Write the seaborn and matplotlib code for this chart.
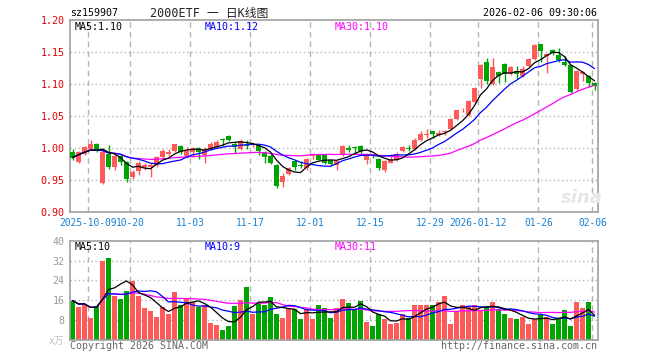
import numpy as np
import pandas as pd
import matplotlib
matplotlib.use("Agg")
import matplotlib.pyplot as plt
import seaborn as sns

# === DATA ===
dates = [
    "2025-09-26", "2025-09-29", "2025-09-30",
    "2025-10-09", "2025-10-10", "2025-10-13", "2025-10-14", "2025-10-15", "2025-10-16", "2025-10-17",
    "2025-10-20", "2025-10-21", "2025-10-22", "2025-10-23", "2025-10-24", "2025-10-27", "2025-10-28",
    "2025-10-29", "2025-10-30", "2025-10-31",
    "2025-11-03", "2025-11-04", "2025-11-05", "2025-11-06", "2025-11-07", "2025-11-10", "2025-11-11",
    "2025-11-12", "2025-11-13", "2025-11-14", "2025-11-17", "2025-11-18", "2025-11-19", "2025-11-20",
    "2025-11-21", "2025-11-24", "2025-11-25", "2025-11-26", "2025-11-27", "2025-11-28",
    "2025-12-01", "2025-12-02", "2025-12-03", "2025-12-04", "2025-12-05", "2025-12-08", "2025-12-09",
    "2025-12-10", "2025-12-11", "2025-12-12", "2025-12-15", "2025-12-16", "2025-12-17", "2025-12-18",
    "2025-12-19", "2025-12-22", "2025-12-23", "2025-12-24", "2025-12-25", "2025-12-26", "2025-12-29",
    "2025-12-30", "2025-12-31",
    "2026-01-05", "2026-01-06", "2026-01-07", "2026-01-08", "2026-01-09", "2026-01-12", "2026-01-13",
    "2026-01-14", "2026-01-15", "2026-01-16", "2026-01-19", "2026-01-20", "2026-01-21", "2026-01-22",
    "2026-01-23", "2026-01-26", "2026-01-27", "2026-01-28", "2026-01-29", "2026-01-30",
    "2026-02-02", "2026-02-03", "2026-02-04", "2026-02-05", "2026-02-06",
]
opens = [0.993, 0.978, 0.991, 0.999, 1.007, 0.946, 0.991, 0.970, 0.987, 0.978,
         0.955, 0.964, 0.970, 0.971, 0.973, 0.986, 0.991, 0.996, 1.003, 0.988,
         0.994, 1.000, 0.989, 0.999, 1.002, 1.014, 1.019, 1.006, 0.998, 1.005,
         1.004, 1.004, 0.993, 0.988, 0.973, 0.947, 0.959, 0.979, 0.973, 0.968,
         0.987, 0.989, 0.989, 0.981, 0.973, 0.990, 1.000, 1.002, 1.003, 0.981,
         0.988, 0.983, 0.966, 0.977, 0.981, 0.995, 1.000, 0.998, 1.013, 1.021,
         1.026, 1.021, 1.025, 1.029, 1.045, 1.059, 1.052, 1.072, 1.108, 1.135,
         1.100, 1.118, 1.132, 1.116, 1.121, 1.113, 1.128, 1.139, 1.162, 1.143,
         1.153, 1.146, 1.134, 1.129, 1.092, 1.115, 1.113, 1.102]
highs = [0.998, 0.996, 1.003, 1.012, 1.008, 1.000, 1.004, 0.990, 0.990, 0.980,
         0.965, 0.980, 0.977, 0.976, 0.988, 0.999, 0.998, 1.007, 1.004, 1.002,
         1.002, 1.001, 1.002, 1.009, 1.013, 1.015, 1.020, 1.009, 1.014, 1.013,
         1.008, 1.006, 0.995, 0.990, 0.975, 0.961, 0.971, 0.981, 0.980, 0.984,
         0.992, 0.990, 0.990, 0.981, 0.982, 1.004, 1.005, 1.003, 1.004, 0.992,
         0.990, 0.985, 0.982, 0.990, 0.994, 1.003, 1.004, 1.015, 1.027, 1.029,
         1.027, 1.028, 1.028, 1.047, 1.060, 1.062, 1.075, 1.095, 1.132, 1.141,
         1.141, 1.120, 1.133, 1.128, 1.128, 1.128, 1.140, 1.163, 1.163, 1.149,
         1.155, 1.157, 1.144, 1.130, 1.122, 1.120, 1.114, 1.103]
lows = [0.982, 0.976, 0.989, 0.997, 0.993, 0.944, 0.967, 0.965, 0.974, 0.947,
        0.952, 0.958, 0.966, 0.955, 0.971, 0.983, 0.988, 0.994, 0.991, 0.985,
        0.986, 0.983, 0.977, 0.997, 1.000, 1.003, 1.011, 0.992, 0.997, 0.998,
        1.001, 0.989, 0.977, 0.975, 0.938, 0.939, 0.958, 0.966, 0.969, 0.966,
        0.983, 0.981, 0.975, 0.973, 0.965, 0.988, 0.994, 0.991, 0.991, 0.975,
        0.984, 0.965, 0.962, 0.976, 0.980, 0.993, 0.995, 0.997, 1.011, 1.015,
        1.015, 1.018, 1.020, 1.028, 1.043, 1.057, 1.050, 1.068, 1.094, 1.100,
        1.099, 1.102, 1.103, 1.114, 1.108, 1.111, 1.126, 1.137, 1.135, 1.117,
        1.145, 1.134, 1.128, 1.086, 1.090, 1.105, 1.096, 1.090]
closes = [0.985, 0.994, 1.001, 1.007, 0.996, 0.993, 0.970, 0.988, 0.978, 0.951,
          0.963, 0.977, 0.974, 0.973, 0.986, 0.995, 0.993, 1.006, 0.994, 0.996,
          1.000, 0.994, 0.999, 1.007, 1.009, 1.013, 1.012, 1.003, 1.011, 1.003,
          1.006, 0.996, 0.986, 0.977, 0.941, 0.956, 0.969, 0.970, 0.972, 0.983,
          0.990, 0.982, 0.977, 0.975, 0.980, 1.003, 0.997, 1.000, 0.996, 0.989,
          0.987, 0.968, 0.980, 0.982, 0.991, 1.001, 0.999, 1.013, 1.022, 1.022,
          1.022, 1.023, 1.026, 1.045, 1.059, 1.060, 1.073, 1.094, 1.130, 1.104,
          1.126, 1.113, 1.115, 1.127, 1.116, 1.123, 1.139, 1.161, 1.151, 1.147,
          1.149, 1.138, 1.129, 1.088, 1.120, 1.119, 1.102, 1.097]
volumes = [15.9, 13.1, 14.6, 9.0, 13.5, 31.7, 32.9, 17.9, 16.7, 19.7,
           23.6, 17.9, 12.8, 11.5, 9.4, 13.2, 10.5, 19.2, 14.3, 17.0,
           15.2, 13.1, 13.9, 7.0, 6.2, 4.2, 5.8, 13.5, 16.3, 21.2,
           10.3, 14.8, 13.9, 17.5, 10.3, 9.0, 12.6, 12.6, 8.6, 12.3,
           8.6, 13.9, 12.8, 9.0, 12.8, 16.7, 15.1, 12.3, 15.9, 7.4,
           5.8, 10.3, 8.6, 6.6, 7.0, 10.3, 9.0, 14.3, 14.3, 14.3,
           14.3, 15.5, 17.9, 6.6, 11.5, 14.3, 13.5, 13.9, 11.9, 13.1,
           15.5, 12.3, 10.3, 9.0, 8.6, 9.4, 6.6, 8.6, 9.9, 9.4,
           6.6, 8.6, 11.9, 5.8, 15.5, 12.7, 15.5, 0.2]

tick_dates = ["2025-10-09", "2025-10-20", "2025-11-03", "2025-11-17", "2025-12-01",
              "2025-12-15", "2025-12-29", "2026-01-12", "2026-01-26", "2026-02-06"]
tick_labels = ["2025-10-09", "10-20", "11-03", "11-17", "12-01",
               "12-15", "12-29", "2026-01-12", "01-26", "02-06"]
price_ticks = [0.90, 0.95, 1.00, 1.05, 1.10, 1.15, 1.20]
vol_ticks = [8, 16, 24, 32, 40]

# === STYLE ===
RED = "#ff5a5a"
GREEN = "#00a400"
GRID = "#b4b4b4"
FRAME = "#a0a0a0"
BLUE_TXT = "#1a80d0"
FS = 7.2
W, H = 660, 360

sns.set_theme(style="white")
plt.rcParams['font.family'] = ['DejaVu Sans Mono', 'Noto Sans CJK SC']

df = pd.DataFrame({"date": dates, "open": opens, "high": highs,
                   "low": lows, "close": closes, "vol": volumes})
df["x"] = np.arange(len(df))
df["up"] = df["close"] >= df["open"]
for n in (5, 10, 30):
    df[f"ma{n}"] = df["close"].rolling(n, min_periods=1).mean()
    df[f"vma{n}"] = df["vol"].rolling(n, min_periods=1).mean()

tick_pos = [dates.index(d) - 0.35 for d in tick_dates]


def px(x0, y0, x1, y1):
    return [x0 / W, 1 - y1 / H, (x1 - x0) / W, (y1 - y0) / H]


fig = plt.figure(figsize=(W / 100, H / 100), dpi=100)
ax = fig.add_axes(px(70, 20, 598, 212))
axv = fig.add_axes(px(70, 240.7, 598, 340))

for a in (ax, axv):
    a.set_xlim(-0.42, len(df) - 0.42)
    for s in a.spines.values():
        s.set_color(FRAME)
        s.set_linewidth(1.2)
    for p in tick_pos:
        a.axvline(p, color=GRID, lw=1, ls=(0, (4, 3)), zorder=0)
    a.tick_params(length=0, pad=4)

# --- candles ---
colors = np.where(df["up"], RED, GREEN)
ax.vlines(df["x"], df["low"], df["high"], colors=colors, lw=1, zorder=2)
body_lo = np.minimum(df["open"], df["close"])
body_h = np.maximum((df["close"] - df["open"]).abs(), 0.0008)
ax.bar(df["x"], body_h, bottom=body_lo, width=0.8, color=colors, lw=0, zorder=3)

for col, c in (("ma30", "#ff00ff"), ("ma10", "#0000ff"), ("ma5", "black")):
    sns.lineplot(x=df["x"], y=df[col], color=c, lw=0.9, ax=ax, zorder=4)

ax.set_ylim(0.90, 1.20)
ax.set_yticks(price_ticks)
ax.set_yticklabels([f"{t:.2f}" for t in price_ticks], color="#e00000", fontsize=FS)
for t in price_ticks[1:-1]:
    ax.axhline(t, color=GRID, lw=1, ls=(0, (1, 2)), zorder=0)
ax.set_xticks(tick_pos)
ax.set_xticklabels(tick_labels, color=BLUE_TXT, fontsize=6.9)
ax.set_xlabel("")
ax.set_ylabel("")

# --- volume ---
sns.barplot(data=df, x="x", y="vol", hue="up", palette={True: RED, False: GREEN},
            native_scale=True, dodge=False, width=0.8, saturation=1,
            errorbar=None, legend=False, linewidth=0, ax=axv, zorder=2)
for col, c in (("vma30", "#ff00ff"), ("vma10", "#0000ff"), ("vma5", "black")):
    sns.lineplot(x=df["x"], y=df[col], color=c, lw=0.9, ax=axv, zorder=4)
axv.set_xlim(-0.42, len(df) - 0.42)
axv.set_ylim(0, 40)
axv.set_yticks(vol_ticks)
axv.set_yticklabels([str(t) for t in vol_ticks], color="#999999", fontsize=FS)
for t in vol_ticks[:-1]:
    axv.axhline(t, color=GRID, lw=1, ls=(0, (1, 2)), zorder=0)
axv.set_xticks(tick_pos)
axv.set_xticklabels([])
axv.set_xlabel("")
axv.set_ylabel("")


# --- texts ---
def ftext(x, y, s, **kw):
    kw.setdefault("fontsize", FS)
    kw.setdefault("va", "center")
    fig.text(x / W, 1 - y / H, s, **kw)


ftext(70, 13, "sz159907", color="black")
ftext(150, 13, "2000ETF 一 日K线图", color="#222222", fontsize=8.5)
ftext(597, 13, "2026-02-06 09:30:06", color="black", ha="right")
ftext(75, 27, "MA5:1.10", color="black")
ftext(205, 27, "MA10:1.12", color="#0000ff")
ftext(335, 27, "MA30:1.10", color="#ff00ff")
ftext(75, 246.5, "MA5:10", color="black")
ftext(205, 246.5, "MA10:9", color="#0000ff")
ftext(335, 246.5, "MA30:11", color="#ff00ff")
ftext(49, 341, "x万", color="#c0c0c0", fontsize=7)
ftext(70, 346, "Copyright 2026 SINA.COM", color="#666666")
ftext(597, 346, "http://finance.sina.com.cn", color="#666666", ha="right")
ftext(582, 198, "sina", color="#e6e6e6", fontsize=13, fontweight="bold",
      fontstyle="italic", ha="center", family="DejaVu Sans")

fig.savefig("out.png", dpi=100)
